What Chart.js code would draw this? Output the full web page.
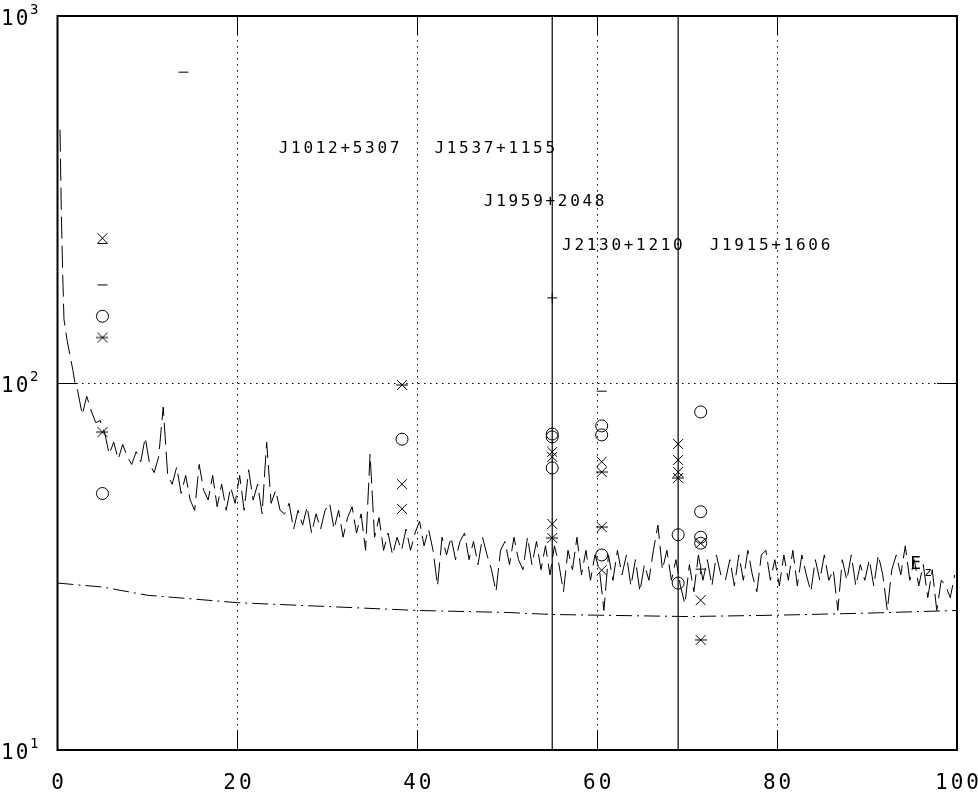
<!DOCTYPE html>
<html>
<head>
<meta charset="utf-8">
<script src="https://cdn.jsdelivr.net/npm/chart.js@4/dist/chart.umd.min.js"></script>
<style>
  html, body { margin: 0; padding: 0; background: #fff; }
</style>
</head>
<body>
<canvas id="plot" width="978" height="798"></canvas>
<script>
// axes
const xTicks = [0, 20, 40, 60, 80, 100];
const yTicks = [10, 100, 1000];

// E_z curve: steep head read point by point, then a regular sampling
const ezHeadX = [0.28, 0.42, 0.58, 0.72, 1.06, 1.39, 1.72, 1.94];
const ezHeadY = [490, 296, 197, 149, 131, 119, 108, 100];
const ezStart = 2.25;
const ezStep = 0.5;
const ezValues = [
  95, 82, 92, 84, 78, 79,
  73, 64, 69, 62, 68, 63, 60, 65, 61, 71,
  60, 57, 63, 86, 56, 53, 59, 50, 56, 48,
  45, 60, 51, 48, 56, 46, 53, 45, 52, 47,
  56, 45, 58, 48, 53, 44, 69, 47, 51, 45,
  44, 47, 40, 45, 41, 46, 39, 44, 40, 45,
  47, 40, 45, 38, 43, 46, 39, 44, 35, 64,
  38, 43, 35, 39, 34, 38, 35, 40, 35, 39,
  42, 36, 40, 35, 28, 38, 34, 38, 33, 37,
  39, 33, 37, 32, 38, 34, 31, 27, 35, 37,
  32, 38, 33, 31, 38, 32, 37, 31, 36, 30,
  36, 32, 27, 35, 31, 38, 30, 35, 29, 34,
  31, 24, 34, 29, 35, 30, 34, 28, 33, 27,
  32, 29, 35, 41, 31, 35, 29, 33, 28, 25,
  32, 27, 34, 29, 33, 28, 34, 30, 29, 33,
  28, 34, 29, 35, 30, 27, 34, 35, 29, 33,
  28, 34, 29, 35, 28, 34, 30, 27, 33, 29,
  34, 29, 31, 24, 33, 29, 34, 28, 32, 29,
  33, 28, 34, 30, 24, 31, 34, 30, 36, 29,
  33, 28, 32, 26, 31, 24, 29, 28, 26, 30
];

// lower dash-dot curve
const floorX = [0, 5, 10, 15, 20, 30, 40, 50, 55, 60, 70, 80, 90, 100];
const floorY = [28.5, 27.8, 26.4, 25.8, 25.2, 24.6, 24.0, 23.7, 23.4, 23.3, 23.1, 23.3, 23.6, 24.0];

// pulsars drawn as full-height lines
const pulsarLines = [55, 69];

// markers, one list per symbol
const crossX = [5, 38.3, 38.3, 55, 55, 55, 60.5, 60.5, 69, 69, 69, 71.5, 71.5];
const crossY = [248, 53, 45.4, 64.9, 62.9, 41.3, 61, 30.9, 68.2, 61.7, 57.2, 36.6, 25.6];

const starX = [5, 5, 38.3, 55, 60.5, 60.5, 69, 71.5];
const starY = [133, 73.5, 98.8, 37.8, 57.2, 40.5, 55.1, 19.95];

const circleX = [5, 5, 38.3, 55, 55, 55, 60.5, 60.5, 60.5, 69, 69, 71.5, 71.5, 71.5, 71.5];
const circleY = [152, 50, 70.3, 72.6, 71.3, 58.7, 76.4, 72.2, 34, 38.6, 28.5, 83.4, 44.6, 38.0, 36.6];

const dashX = [5, 5, 14, 60.5];
const dashY = [240, 185, 703, 95];

const plusX = [55, 71.5];
const plusY = [170.6, 31.1];

// text labels
const labelText = ["J1012+5307", "J1537+1155", "J1959+2048", "J2130+1210", "J1915+1606"];
const labelX = [24.6, 41.9, 47.4, 56.1, 72.5];
const labelY = [435, 435, 311, 236, 236];

const pts = (xs, ys) => xs.map((x, i) => ({ x: x, y: ys[i] }));

function makeStar(s) {
  const c = document.createElement("canvas");
  c.width = c.height = s;
  const g = c.getContext("2d");
  g.strokeStyle = "#000";
  g.lineWidth = 1;
  g.beginPath();
  g.moveTo(1, 1); g.lineTo(s - 1, s - 1);
  g.moveTo(s - 1, 1); g.lineTo(1, s - 1);
  g.moveTo(0, s / 2); g.lineTo(s, s / 2);
  g.stroke();
  return c;
}

const ezData = pts(ezHeadX, ezHeadY).concat(ezValues.map((v, i) => ({ x: ezStart + i * ezStep, y: v })));

const markerBase = { showLine: false, borderColor: "#000", backgroundColor: "rgba(0,0,0,0)", borderWidth: 1 };

const datasets = [
  { data: ezData, showLine: true, borderColor: "#000", borderWidth: 1, borderDash: [22, 7], pointRadius: 0, tension: 0 },
  { data: pts(floorX, floorY), showLine: true, borderColor: "#000", borderWidth: 1, borderDash: [16, 5, 2, 5], pointRadius: 0, tension: 0 },
  ...pulsarLines.map(v => ({ data: [{ x: v, y: 10 }, { x: v, y: 1000 }], showLine: true, borderColor: "#000", borderWidth: 1.2, pointRadius: 0 })),
  { ...markerBase, data: pts(crossX, crossY), pointStyle: "crossRot", pointRadius: 7 },
  { ...markerBase, data: pts(starX, starY), pointStyle: makeStar(12), pointRadius: 6 },
  { ...markerBase, data: pts(circleX, circleY), pointStyle: "circle", pointRadius: 6 },
  { ...markerBase, data: pts(dashX, dashY), pointStyle: "line", pointRadius: 5 },
  { ...markerBase, data: pts(plusX, plusY), pointStyle: "cross", pointRadius: 5 }
];

const MONO = '"DejaVu Sans Mono", monospace';

// box, inward tics and all text
const frame = {
  id: "frame",
  afterDatasetsDraw(chart) {
    const { ctx, chartArea: a, scales: { x, y } } = chart;
    ctx.save();
    ctx.strokeStyle = "#000";
    ctx.lineWidth = 1;
    ctx.beginPath();
    xTicks.slice(1, -1).forEach(v => {
      const px = Math.round(x.getPixelForValue(v)) + 0.5;
      ctx.moveTo(px, a.bottom); ctx.lineTo(px, a.bottom - 19);
      ctx.moveTo(px, a.top); ctx.lineTo(px, a.top + 19);
    });
    yTicks.slice(1, -1).forEach(v => {
      const py = Math.round(y.getPixelForValue(v)) + 0.5;
      ctx.moveTo(a.left, py); ctx.lineTo(a.left + 20, py);
      ctx.moveTo(a.right, py); ctx.lineTo(a.right - 20, py);
    });
    ctx.stroke();
    ctx.lineWidth = 2;
    ctx.strokeRect(a.left, a.top, a.right - a.left, a.bottom - a.top);

    ctx.fillStyle = "#000";
    ctx.textBaseline = "middle";

    // pulsar names
    ctx.textAlign = "left";
    ctx.font = "16px " + MONO;
    ctx.letterSpacing = "2.7px";
    labelText.forEach((t, i) => {
      ctx.fillText(t, x.getPixelForValue(labelX[i]), y.getPixelForValue(labelY[i]));
    });

    // E_z
    ctx.letterSpacing = "0px";
    const ex = x.getPixelForValue(94.8), ey = y.getPixelForValue(32.1);
    ctx.font = "18px " + MONO;
    ctx.fillText("E", ex, ey);
    ctx.font = "13px " + MONO;
    ctx.fillText("z", ex + 14, ey + 9);

    // x tick labels
    ctx.textAlign = "center";
    ctx.font = "21px " + MONO;
    ctx.letterSpacing = "3px";
    xTicks.forEach(v => ctx.fillText(String(v), x.getPixelForValue(v) + 1.5, 784));

    // y tick labels 10^n
    ctx.textAlign = "left";
    yTicks.forEach(v => {
      const py = y.getPixelForValue(v);
      ctx.font = "21px " + MONO;
      ctx.letterSpacing = "2px";
      ctx.fillText("10", 1, py + 4);
      ctx.font = "14px " + MONO;
      ctx.letterSpacing = "0px";
      ctx.fillText(String(Math.round(Math.log10(v))), 30, py - 6);
    });
    ctx.restore();
  }
};

new Chart(document.getElementById("plot").getContext("2d"), {
  type: "scatter",
  data: { datasets: datasets },
  options: {
    responsive: false,
    animation: false,
    events: [],
    layout: { padding: { top: 16, right: 21, left: 0, bottom: 0 } },
    plugins: { legend: { display: false }, tooltip: { enabled: false } },
    scales: {
      x: {
        type: "linear",
        min: 0,
        max: 100,
        ticks: { display: false, stepSize: 20 },
        grid: {
          drawTicks: false,
          lineWidth: 1,
          color: c => (c.tick && (c.tick.value === 0 || c.tick.value === 100)) ? "rgba(0,0,0,0)" : "#000"
        },
        border: { display: false, dash: [1.5, 4.5] },
        afterFit(s) { s.height = 48; }
      },
      y: {
        type: "logarithmic",
        min: 10,
        max: 1000,
        ticks: { display: false },
        afterBuildTicks(s) { s.ticks = yTicks.map(v => ({ value: v })); },
        grid: {
          drawTicks: false,
          lineWidth: 1,
          color: c => (c.tick && c.tick.value === 100) ? "#000" : "rgba(0,0,0,0)"
        },
        border: { display: false, dash: [1.5, 4.5] },
        afterFit(s) { s.width = 57.5; }
      }
    }
  },
  plugins: [frame]
});
</script>
</body>
</html>
